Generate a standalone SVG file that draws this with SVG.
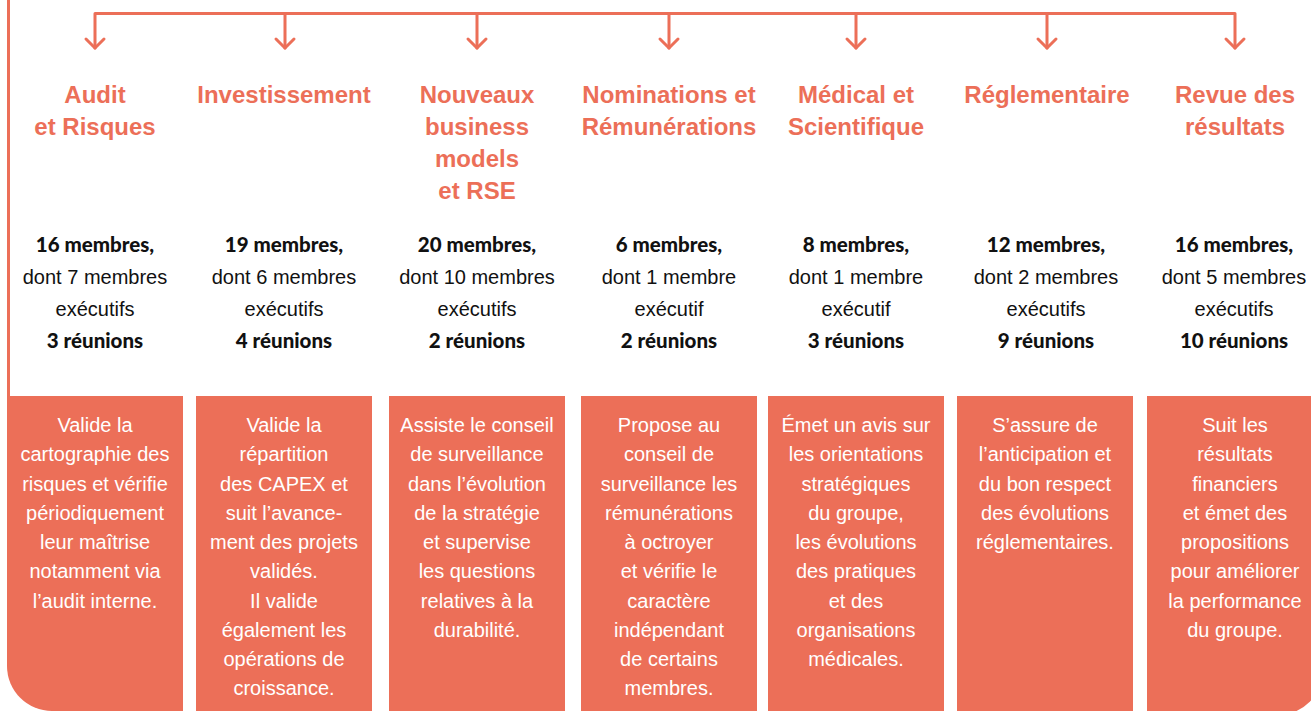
<svg xmlns="http://www.w3.org/2000/svg" width="1311" height="711" viewBox="0 0 1311 711">
<defs>
<style>
.ln{fill:none;stroke:#EC6F58;stroke-width:3;stroke-linecap:round;stroke-linejoin:round}
.box{fill:#EC6F58}
.title{font-family:"Liberation Sans",Arial,sans-serif;font-weight:bold;font-size:24px;fill:#EC6F58;text-anchor:middle}
.stat{font-family:"Liberation Sans",Arial,sans-serif;font-size:20px;fill:#111111;text-anchor:middle}
.b{font-family:Lato,"Liberation Sans",Arial,sans-serif;font-weight:900;font-size:20.5px}
.desc{font-family:"Liberation Sans",Arial,sans-serif;font-size:20px;fill:#FFFFFF;text-anchor:middle}
</style>
</defs>
<rect width="1311" height="711" fill="#FFFFFF"/>
<g id="connectors">
<line class="ln" x1="8.5" y1="0" x2="8.5" y2="397"/>
<polyline class="ln" points="95,48 95,13.5 1235,13.5 1235,48"/>
<line class="ln" x1="285" y1="13.5" x2="285" y2="48"/>
<line class="ln" x1="477" y1="13.5" x2="477" y2="48"/>
<line class="ln" x1="669" y1="13.5" x2="669" y2="48"/>
<line class="ln" x1="856" y1="13.5" x2="856" y2="48"/>
<line class="ln" x1="1047" y1="13.5" x2="1047" y2="48"/>
<polyline class="ln" points="86,39 95,48 104,39"/>
<polyline class="ln" points="276,39 285,48 294,39"/>
<polyline class="ln" points="468,39 477,48 486,39"/>
<polyline class="ln" points="660,39 669,48 678,39"/>
<polyline class="ln" points="847,39 856,48 865,39"/>
<polyline class="ln" points="1038,39 1047,48 1056,39"/>
<polyline class="ln" points="1226,39 1235,48 1244,39"/>
</g>
<g id="audit">
<text class="title"><tspan x="95" y="103">Audit</tspan><tspan x="95" y="135">et Risques</tspan></text>
<text class="stat"><tspan class="b" x="95" y="252">16 membres,</tspan><tspan x="95" y="284">dont 7 membres</tspan><tspan x="95" y="316">exécutifs</tspan><tspan class="b" x="95" y="348">3 réunions</tspan></text>
<path class="box" d="M7,396 H183 V711 H52 A45,45 0 0 1 7,666 Z"/>
<text class="desc"><tspan x="95" y="432">Valide la</tspan><tspan x="95" dy="29.25">cartographie des</tspan><tspan x="95" dy="29.25">risques et vérifie</tspan><tspan x="95" dy="29.25">périodiquement</tspan><tspan x="95" dy="29.25">leur maîtrise</tspan><tspan x="95" dy="29.25">notamment via</tspan><tspan x="95" dy="29.25">l’audit interne.</tspan></text>
</g>
<g id="investissement">
<text class="title"><tspan x="284" y="103">Investissement</tspan></text>
<text class="stat"><tspan class="b" x="284" y="252">19 membres,</tspan><tspan x="284" y="284">dont 6 membres</tspan><tspan x="284" y="316">exécutifs</tspan><tspan class="b" x="284" y="348">4 réunions</tspan></text>
<rect class="box" x="196" y="396" width="176" height="315"/>
<text class="desc"><tspan x="284" y="432">Valide la</tspan><tspan x="284" dy="29.25">répartition</tspan><tspan x="284" dy="29.25">des CAPEX et</tspan><tspan x="284" dy="29.25">suit l’avance-</tspan><tspan x="284" dy="29.25">ment des projets</tspan><tspan x="284" dy="29.25">validés.</tspan><tspan x="284" dy="29.25">Il valide</tspan><tspan x="284" dy="29.25">également les</tspan><tspan x="284" dy="29.25">opérations de</tspan><tspan x="284" dy="29.25">croissance.</tspan></text>
</g>
<g id="nouveaux-business">
<text class="title"><tspan x="477" y="103">Nouveaux</tspan><tspan x="477" y="135">business</tspan><tspan x="477" y="167">models</tspan><tspan x="477" y="199">et RSE</tspan></text>
<text class="stat"><tspan class="b" x="477" y="252">20 membres,</tspan><tspan x="477" y="284">dont 10 membres</tspan><tspan x="477" y="316">exécutifs</tspan><tspan class="b" x="477" y="348">2 réunions</tspan></text>
<rect class="box" x="389" y="396" width="176" height="315"/>
<text class="desc"><tspan x="477" y="432">Assiste le conseil</tspan><tspan x="477" dy="29.25">de surveillance</tspan><tspan x="477" dy="29.25">dans l’évolution</tspan><tspan x="477" dy="29.25">de la stratégie</tspan><tspan x="477" dy="29.25">et supervise</tspan><tspan x="477" dy="29.25">les questions</tspan><tspan x="477" dy="29.25">relatives à la</tspan><tspan x="477" dy="29.25">durabilité.</tspan></text>
</g>
<g id="nominations">
<text class="title"><tspan x="669" y="103">Nominations et</tspan><tspan x="669" y="135">Rémunérations</tspan></text>
<text class="stat"><tspan class="b" x="669" y="252">6 membres,</tspan><tspan x="669" y="284">dont 1 membre</tspan><tspan x="669" y="316">exécutif</tspan><tspan class="b" x="669" y="348">2 réunions</tspan></text>
<rect class="box" x="581" y="396" width="176" height="315"/>
<text class="desc"><tspan x="669" y="432">Propose au</tspan><tspan x="669" dy="29.25">conseil de</tspan><tspan x="669" dy="29.25">surveillance les</tspan><tspan x="669" dy="29.25">rémunérations</tspan><tspan x="669" dy="29.25">à octroyer</tspan><tspan x="669" dy="29.25">et vérifie le</tspan><tspan x="669" dy="29.25">caractère</tspan><tspan x="669" dy="29.25">indépendant</tspan><tspan x="669" dy="29.25">de certains</tspan><tspan x="669" dy="29.25">membres.</tspan></text>
</g>
<g id="medical">
<text class="title"><tspan x="856" y="103">Médical et</tspan><tspan x="856" y="135">Scientifique</tspan></text>
<text class="stat"><tspan class="b" x="856" y="252">8 membres,</tspan><tspan x="856" y="284">dont 1 membre</tspan><tspan x="856" y="316">exécutif</tspan><tspan class="b" x="856" y="348">3 réunions</tspan></text>
<rect class="box" x="768" y="396" width="176" height="315"/>
<text class="desc"><tspan x="856" y="432">Émet un avis sur</tspan><tspan x="856" dy="29.25">les orientations</tspan><tspan x="856" dy="29.25">stratégiques</tspan><tspan x="856" dy="29.25">du groupe,</tspan><tspan x="856" dy="29.25">les évolutions</tspan><tspan x="856" dy="29.25">des pratiques</tspan><tspan x="856" dy="29.25">et des</tspan><tspan x="856" dy="29.25">organisations</tspan><tspan x="856" dy="29.25">médicales.</tspan></text>
</g>
<g id="reglementaire">
<text class="title"><tspan x="1047" y="103">Réglementaire</tspan></text>
<text class="stat"><tspan class="b" x="1046" y="252">12 membres,</tspan><tspan x="1046" y="284">dont 2 membres</tspan><tspan x="1046" y="316">exécutifs</tspan><tspan class="b" x="1046" y="348">9 réunions</tspan></text>
<rect class="box" x="957" y="396" width="176" height="315"/>
<text class="desc"><tspan x="1045" y="432">S’assure de</tspan><tspan x="1045" dy="29.25">l’anticipation et</tspan><tspan x="1045" dy="29.25">du bon respect</tspan><tspan x="1045" dy="29.25">des évolutions</tspan><tspan x="1045" dy="29.25">réglementaires.</tspan></text>
</g>
<g id="revue-resultats">
<text class="title"><tspan x="1235" y="103">Revue des</tspan><tspan x="1235" y="135">résultats</tspan></text>
<text class="stat"><tspan class="b" x="1234" y="252">16 membres,</tspan><tspan x="1234" y="284">dont 5 membres</tspan><tspan x="1234" y="316">exécutifs</tspan><tspan class="b" x="1234" y="348">10 réunions</tspan></text>
<path class="box" d="M1147,396 H1323 V670 A45,45 0 0 1 1278,715 H1147 Z"/>
<text class="desc"><tspan x="1235" y="432">Suit les</tspan><tspan x="1235" dy="29.25">résultats</tspan><tspan x="1235" dy="29.25">financiers</tspan><tspan x="1235" dy="29.25">et émet des</tspan><tspan x="1235" dy="29.25">propositions</tspan><tspan x="1235" dy="29.25">pour améliorer</tspan><tspan x="1235" dy="29.25">la performance</tspan><tspan x="1235" dy="29.25">du groupe.</tspan></text>
</g>
</svg>
